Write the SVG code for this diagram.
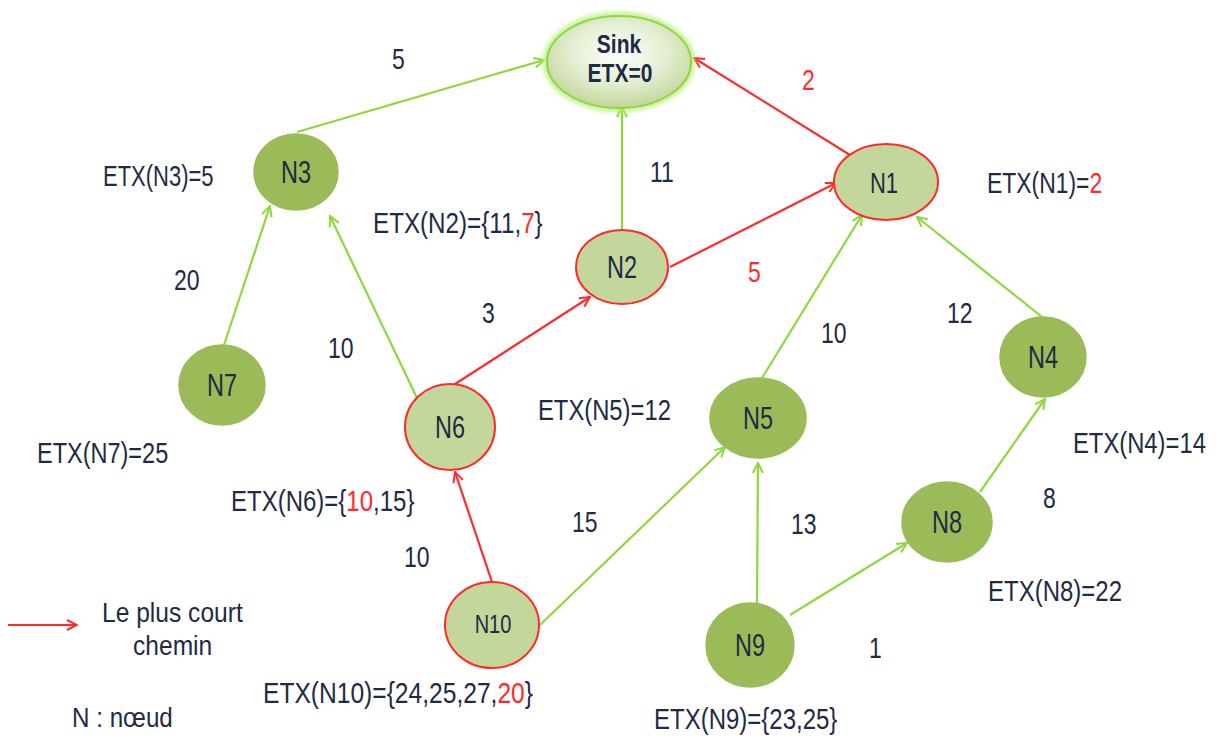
<svg xmlns="http://www.w3.org/2000/svg" width="1219" height="740" viewBox="0 0 1219 740">
<defs>
  <radialGradient id="sinkFill" cx="50%" cy="40%" r="60%">
    <stop offset="0" stop-color="#ffffff"/>
    <stop offset="0.55" stop-color="#e4eed2"/>
    <stop offset="1" stop-color="#c3d69b"/>
  </radialGradient>
  <filter id="glow" x="-20%" y="-20%" width="140%" height="140%">
    <feGaussianBlur stdDeviation="2.5"/>
  </filter>
  <marker id="arrG" viewBox="0 0 12 12" refX="11" refY="6" markerWidth="12" markerHeight="12" markerUnits="userSpaceOnUse" orient="auto">
    <path d="M1,1 L11,6 L1,11" fill="none" stroke="#8fd83c" stroke-width="2"/>
  </marker>
  <marker id="arrR" viewBox="0 0 12 12" refX="11" refY="6" markerWidth="12" markerHeight="12" markerUnits="userSpaceOnUse" orient="auto">
    <path d="M1,1 L11,6 L1,11" fill="none" stroke="#ff2a2a" stroke-width="2"/>
  </marker>
</defs>
<style>
  .g { stroke: #8fd83c; stroke-width: 2.2; fill: none; marker-end: url(#arrG); }
  .r { stroke: #ff2a2a; stroke-width: 2.2; fill: none; marker-end: url(#arrR); }
  .dark { fill: #9bbb59; stroke: #9bbb59; stroke-width: 1.5; }
  .light { fill: #c3d69b; stroke: #ff2a2a; stroke-width: 2; }
  text { font-family: "Liberation Sans", Arial, sans-serif; fill: #1f2a44; }
  .nl { font-size: 23.5px; text-anchor: middle; }
  .w { font-size: 23px; }
  .red { fill: #ff2a2a; }
</style>
<rect width="1219" height="740" fill="#ffffff"/>

<!-- connectors -->
<g id="connectors">
  <line class="g" x1="297" y1="132" x2="544" y2="60"/>
  <line class="g" x1="622" y1="229" x2="622" y2="107"/>
  <line class="r" x1="850" y1="155" x2="694" y2="58"/>
  <line class="r" x1="670" y1="267" x2="836" y2="183"/>
  <line class="g" x1="224" y1="345" x2="270" y2="206"/>
  <line class="g" x1="417" y1="398" x2="330" y2="216"/>
  <line class="r" x1="452" y1="386" x2="590" y2="297"/>
  <line class="r" x1="492" y1="582" x2="455" y2="472"/>
  <line class="g" x1="540" y1="625" x2="725" y2="447"/>
  <line class="g" x1="762" y1="378" x2="862" y2="215"/>
  <line class="g" x1="1042" y1="317" x2="917" y2="217"/>
  <line class="g" x1="757" y1="603" x2="758" y2="463"/>
  <line class="g" x1="790" y1="615" x2="907" y2="543"/>
  <line class="g" x1="980" y1="492" x2="1045" y2="399"/>
</g>

<!-- nodes (labels are drawn in a tall, narrow face: stretched vertically) -->
<g id="sink">
  <ellipse cx="619" cy="62" rx="73" ry="47" fill="none" stroke="#b8ec7a" stroke-width="5" filter="url(#glow)"/>
  <ellipse cx="619" cy="62" rx="72" ry="46" fill="url(#sinkFill)" stroke="#8fd83c" stroke-width="2"/>
  <text transform="translate(619 53) scale(1 1.2)" class="nl" style="font-size:21px;font-weight:bold">Sink</text>
  <text transform="translate(620 82) scale(1 1.2)" class="nl" style="font-size:21px;font-weight:bold">ETX=0</text>
</g>
<g id="N3"><ellipse class="dark" cx="296" cy="172" rx="42" ry="38"/><text class="nl" transform="translate(296 183) scale(1 1.37)">N3</text></g>
<g id="N2"><ellipse class="light" cx="622" cy="267" rx="46" ry="37"/><text class="nl" transform="translate(622 278) scale(1 1.37)">N2</text></g>
<g id="N1"><ellipse class="light" cx="886" cy="182" rx="52" ry="38"/><text class="nl" transform="translate(884 193) scale(1 1.37)" style="font-size:22px">N1</text></g>
<g id="N7"><ellipse class="dark" cx="222" cy="385" rx="43" ry="40"/><text class="nl" transform="translate(222 396) scale(1 1.37)">N7</text></g>
<g id="N6"><ellipse class="light" cx="450" cy="427" rx="45" ry="43"/><text class="nl" transform="translate(450 438) scale(1 1.37)">N6</text></g>
<g id="N5"><ellipse class="dark" cx="758" cy="418" rx="48" ry="40"/><text class="nl" transform="translate(758 429) scale(1 1.37)">N5</text></g>
<g id="N4"><ellipse class="dark" cx="1043" cy="357" rx="43" ry="40"/><text class="nl" transform="translate(1043 368) scale(1 1.37)">N4</text></g>
<g id="N8"><ellipse class="dark" cx="947" cy="522" rx="45" ry="40"/><text class="nl" transform="translate(947 533) scale(1 1.37)">N8</text></g>
<g id="N10"><ellipse class="light" cx="492" cy="625" rx="47" ry="43"/><text class="nl" transform="translate(493 633) scale(1 1.25)" style="font-size:20px">N10</text></g>
<g id="N9"><ellipse class="dark" cx="750" cy="645" rx="44" ry="42"/><text class="nl" transform="translate(750 656) scale(1 1.37)">N9</text></g>

<!-- link weights -->
<g id="weights">
  <text class="w" transform="translate(392 69) scale(1 1.27)">5</text>
  <text class="w red" transform="translate(802 90) scale(1 1.27)">2</text>
  <text class="w" transform="translate(650 182) scale(1 1.27)">11</text>
  <text class="w" transform="translate(174 290) scale(1 1.27)">20</text>
  <text class="w" transform="translate(328 358) scale(1 1.27)">10</text>
  <text class="w" transform="translate(482 323) scale(1 1.27)">3</text>
  <text class="w red" transform="translate(748 282) scale(1 1.27)">5</text>
  <text class="w" transform="translate(821 343) scale(1 1.27)">10</text>
  <text class="w" transform="translate(947 323) scale(1 1.27)">12</text>
  <text class="w" transform="translate(572 532) scale(1 1.27)">15</text>
  <text class="w" transform="translate(404 567) scale(1 1.27)">10</text>
  <text class="w" transform="translate(791 534) scale(1 1.27)">13</text>
  <text class="w" transform="translate(1043 508) scale(1 1.27)">8</text>
  <text class="w" transform="translate(869 658) scale(1 1.27)">1</text>
</g>

<!-- ETX annotations; the value on the shortest path is set in red -->
<g id="etx">
  <text transform="translate(103 186) scale(1 1.3)" style="font-size:22px">ETX(N3)=5</text>
  <text transform="translate(373 233) scale(1 1.22)" style="font-size:24.2px">ETX(N2)={11,<tspan class="red">7</tspan>}</text>
  <text transform="translate(987 193) scale(1 1.28)" style="font-size:22.9px">ETX(N1)=<tspan class="red">2</tspan></text>
  <text transform="translate(37 463) scale(1 1.25)" style="font-size:23.5px">ETX(N7)=25</text>
  <text transform="translate(538 420) scale(1 1.24)" style="font-size:23.8px">ETX(N5)=12</text>
  <text transform="translate(1073 453) scale(1 1.24)" style="font-size:23.8px">ETX(N4)=14</text>
  <text transform="translate(231 511) scale(1 1.23)" style="font-size:24px">ETX(N6)={<tspan class="red">10</tspan>,15}</text>
  <text transform="translate(988 601) scale(1 1.23)" style="font-size:24px">ETX(N8)=22</text>
  <text transform="translate(263 703) scale(1 1.2)" style="font-size:24.6px">ETX(N10)={24,25,27,<tspan class="red">20</tspan>}</text>
  <text transform="translate(654 729) scale(1 1.23)" style="font-size:24px">ETX(N9)={23,25}</text>
</g>

<!-- legend -->
<g id="legend">
  <line class="r" x1="8" y1="625" x2="77" y2="625"/>
  <text transform="translate(102 622) scale(1 1.14)" style="font-size:24.6px">Le plus court</text>
  <text transform="translate(133 655) scale(1 1.14)" style="font-size:24.6px">chemin</text>
  <text transform="translate(72 727) scale(1 1.14)" style="font-size:24.2px">N : nœud</text>
</g>
</svg>
